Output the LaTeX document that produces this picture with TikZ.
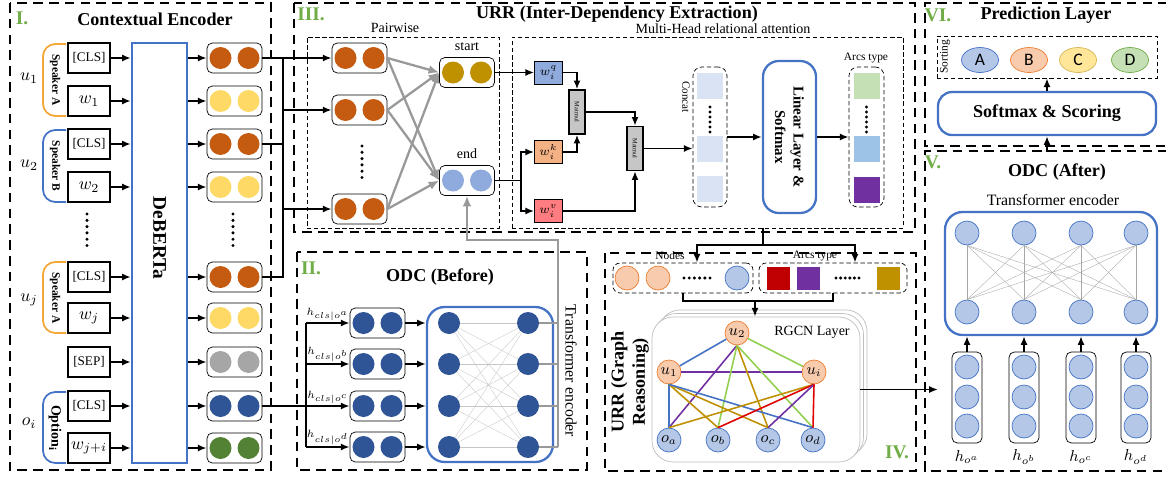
\documentclass[tikz,border=0pt]{standalone}
\usepackage{fontspec}
\setmainfont{Liberation Serif}
\newfontfamily\choicefont{Carlito}
\usepackage{tikz}
\usetikzlibrary{positioning,arrows.meta,calc,shapes.geometric}

\definecolor{clsorange}{HTML}{C55A11}
\definecolor{wordyellow}{HTML}{FFD966}
\definecolor{sepgray}{HTML}{A6A6A6}
\definecolor{optblue}{HTML}{2F5597}
\definecolor{wordgreen}{HTML}{548235}
\definecolor{startgold}{HTML}{BF9000}
\definecolor{endblue}{HTML}{8FAADC}
\definecolor{frameblue}{HTML}{4472C4}
\definecolor{labgreen}{HTML}{70AD47}
\definecolor{braceorange}{HTML}{F4A636}
\definecolor{qblue}{HTML}{8FAADC}
\definecolor{kpeach}{HTML}{F4B183}
\definecolor{vpink}{HTML}{FF7C80}
\definecolor{concatblue}{HTML}{DAE3F3}
\definecolor{arcgreen}{HTML}{C5E0B4}
\definecolor{arcblue}{HTML}{9DC3E6}
\definecolor{arcpurple}{HTML}{7030A0}
\definecolor{arcred}{HTML}{C00000}
\definecolor{nodepeach}{HTML}{F8CBAD}
\definecolor{nodeorange}{HTML}{ED7D31}
\definecolor{nodeblue}{HTML}{B4C7E7}
\definecolor{choiceyellow}{HTML}{FFE699}
\definecolor{choicegold}{HTML}{D6B656}
\definecolor{edgegreen}{HTML}{92D050}
\definecolor{edgered}{HTML}{E00000}

\tikzset{
  panel/.style={line width=1.2pt, dash pattern=on 5.5pt off 3.5pt},
  subpanel/.style={thin, dash pattern=on 2.5pt off 1.5pt},
  tokbox/.style={draw, line width=0.9pt, minimum width=0.84cm, minimum height=0.6cm, inner sep=0pt},
  tokcls/.style={font=\fontsize{7.5}{8}\selectfont},
  tokmath/.style={font=\fontsize{10}{11}\selectfont},
  pairbox/.style={draw, rounded corners=3pt, minimum width=1.1cm, minimum height=0.6cm, inner sep=0pt},
  link/.style={line width=1.1pt},
  arr/.style={line width=1.1pt, -{Latex[length=5pt,width=4pt]}},
  grayarr/.style={line width=1.3pt, gray!80, -{Latex[length=6pt,width=5pt]}},
  graylink/.style={line width=1.2pt, gray!80},
  paneltitle/.style={font=\fontsize{10.3}{12}\selectfont\bfseries},
  panelno/.style={font=\fontsize{11}{12}\selectfont\bfseries, text=labgreen},
  smalltext/.style={font=\fontsize{8}{9}\selectfont},
  tinytext/.style={font=\fontsize{6.5}{7}\selectfont},
  bluebox/.style={draw=frameblue, line width=1.3pt, rounded corners=8pt},
  neuron/.style={circle, minimum size=0.44cm, inner sep=0pt},
  gnode/.style={circle, minimum size=0.48cm, inner sep=0pt, font=\fontsize{9}{10}\selectfont},
  wbox/.style={draw, minimum width=0.56cm, minimum height=0.46cm, inner sep=0pt, font=\fontsize{7.5}{8}\selectfont},
  mmbox/.style={draw, line width=0.8pt, fill=gray!45, minimum width=0.32cm, minimum height=0.88cm, inner sep=0pt},
  mmtext/.style={rotate=-90, font=\fontsize{3.6}{4}\selectfont},
  choice/.style={ellipse, minimum width=0.74cm, minimum height=0.5cm, inner sep=0pt, font=\choicefont\fontsize{10}{11}\selectfont},
  arcsq/.style={minimum size=0.52cm, inner sep=0pt},
}

% two coloured dots in a rounded box
\newcommand{\dotpair}[3]{%
  \node[pairbox] (#1) at (#2) {};
  \fill[#3] ($(#1.center)+(-14,0)$) circle (0.22cm);
  \fill[#3] ($(#1.center)+(14,0)$) circle (0.22cm);
}
\newcommand{\dotcol}[3]{\foreach \k in {0,...,5} \fill (#1,{#2+#3*\k}) circle (0.034cm);}
\newcommand{\dotrow}[3]{\foreach \k in {0,...,5} \fill ({#1+#3*\k},#2) circle (0.034cm);}

\begin{document}
\begin{tikzpicture}[x=0.02cm, y=-0.02cm]
\useasboundingbox (0,0) rectangle (1166,477);

% I. contextual encoder
\draw[panel] (10,3) rectangle (271,470);
\node[panelno] (no1) at (22,18) {I.};
\node[paneltitle] (t1) at (155,19) {Contextual Encoder};

\node[draw=frameblue, line width=1.3pt, minimum width=1.1cm, minimum height=8.4cm] (deb) at (159.5,253) {};
\node[rotate=-90, font=\fontsize{11}{12}\selectfont\bfseries] (debtxt) at (159.5,238) {DeBERTa};

\foreach \n/\y/\s/\txt in {tk1/58/tokcls/[CLS], tk2/101/tokmath/$w_1$, tk3/144/tokcls/[CLS],
  tk4/187/tokmath/$w_2$, tk5/277/tokcls/[CLS], tk6/318/tokmath/$w_j$, tk7/362/tokcls/[SEP],
  tk8/406/tokcls/[CLS], tk9/448/tokmath/$w_{j+i}$}
  \node[tokbox,\s] (\n) at (89,\y) {\txt};

\foreach \n/\y/\c in {out1/58/clsorange, out2/101/wordyellow, out3/144/clsorange, out4/187/wordyellow,
  out5/277/clsorange, out6/318/wordyellow, out7/362/sepgray, out8/406/optblue, out9/448/wordgreen}
  {\dotpair{\n}{234.5,\y}{\c}}

\foreach \i in {1,...,9}{
  \draw[arr] (tk\i.east) -- (tk\i.east -| deb.west);
  \draw[arr] (out\i.west -| deb.east) -- (out\i.west);
}
\dotcol{87}{214}{6.3}
\dotcol{233}{214}{6.3}

% speaker braces
\draw[braceorange, line width=1pt, rounded corners=7pt] (66,44) -- (43,44) -- (43,116) -- (66,116);
\draw[frameblue, line width=1pt, rounded corners=7pt] (66,130) -- (43,130) -- (43,202) -- (66,202);
\draw[braceorange, line width=1pt, rounded corners=7pt] (66,262) -- (43,262) -- (43,333) -- (66,333);
\draw[frameblue, line width=1pt, rounded corners=7pt] (66,392) -- (43,392) -- (43,463) -- (66,463);
\node[rotate=-90, font=\fontsize{6.5}{7}\selectfont\bfseries] (spk1) at (55,80) {Speaker A};
\node[rotate=-90, font=\fontsize{6.5}{7}\selectfont\bfseries] (spk2) at (55,166) {Speaker B};
\node[rotate=-90, font=\fontsize{6.5}{7}\selectfont\bfseries] (spk3) at (55,298) {Speaker A};
\node[rotate=-90, font=\fontsize{8}{9}\selectfont\bfseries] (spk4) at (55,428) {Option\textsubscript{i}};
\node[font=\fontsize{10}{11}\selectfont] (ul1) at (29,78) {$u_1$};
\node[font=\fontsize{10}{11}\selectfont] (ul2) at (29,165) {$u_2$};
\node[font=\fontsize{10}{11}\selectfont] (ul3) at (29,300) {$u_j$};
\node[font=\fontsize{10}{11}\selectfont] (ul4) at (29,423) {$o_i$};

% III. URR inter-dependency extraction
\draw[panel] (294,3) rectangle (915,232);
\node[panelno] (no3) at (311,14) {III.};
\node[paneltitle] (t3) at (617,14) {URR (Inter-Dependency Extraction)};

\node[draw, subpanel, minimum width=3.84cm, minimum height=3.82cm] (pw) at (403,132.5) {};
\node[smalltext] (pwlab) at (395,28) {Pairwise};
\node[draw, subpanel, minimum width=7.82cm, minimum height=3.82cm] (mha) at (707.5,132.5) {};
\node[smalltext] (mhalab) at (723,29) {Multi-Head relational attention};

\dotpair{p1}{359.5,58}{clsorange}
\dotpair{p2}{359.5,110}{clsorange}
\dotpair{p3}{359.5,209}{clsorange}
\dotcol{362}{146}{6.3}
\dotpair{start}{467,72.5}{startgold}
\dotpair{end}{467,180.5}{endblue}
\node[smalltext, above=0pt of start] (stlab) {start};
\node[smalltext, above=0pt of end] (endlab) {end};

\coordinate (bus) at (283,0);
\draw[arr] (out1.east) -- (p1.west);
\draw[link] (out3.east) -- (bus |- out3.east);
\draw[link] (out5.east) -| (bus |- p1.west);
\draw[arr] (bus |- p2.west) -- (p2.west);
\draw[arr] (bus |- p3.west) -- (p3.west);

\foreach \i in {1,2,3}{
  \draw[grayarr] (p\i.east) -- (start.west);
  \draw[grayarr] (p\i.east) -- (end.west);
}

\node[wbox, fill=qblue] (wq) at (548.5,72.5) {$w_i^q$};
\node[wbox, fill=kpeach] (wk) at (548.5,152) {$w_i^k$};
\node[wbox, fill=vpink] (wv) at (548.5,211) {$w_i^v$};
\node[mmbox] (mm1) at (577,112) {};
\node[mmtext] (mm1txt) at (mm1) {Matmul};
\node[mmbox] (mm2) at (635,148.5) {};
\node[mmtext] (mm2txt) at (mm2) {Matmul};

\coordinate (split1) at (521,0);
\draw[arr] (start.east) -- (wq.west);
\draw[link] (end.east) -- (split1 |- end.east);
\draw[arr] (split1 |- end.east) |- (wk.west);
\draw[arr] (split1 |- end.east) |- (wv.west);
\draw[arr] (wq.east) -| (mm1.north);
\draw[arr] (wk.east) -| (mm1.south);
\draw[arr] (mm1.east) -| (mm2.north);
\draw[arr] (wv.east) -| (mm2.south);

\node[draw, subpanel, rounded corners=5pt, minimum width=0.68cm, minimum height=2.8cm] (concat) at (710,137) {};
\node[arcsq, fill=concatblue] (cq1) at (710,86) {};
\node[arcsq, fill=concatblue] (cq2) at (710,148.5) {};
\node[arcsq, fill=concatblue] (cq3) at (710,188.5) {};
\dotcol{710}{107}{5}
\node[rotate=-90, font=\fontsize{6.3}{7}\selectfont] (cclab) at (686,97) {Concat};
\draw[arr] (mm2.east) -- (mm2.east -| concat.west);

\node[bluebox, rounded corners=9pt, minimum width=1.06cm, minimum height=3.04cm] (linear) at (789.5,137) {};
\node[rotate=-90, align=center, font=\fontsize{8.5}{10.5}\selectfont\bfseries] (lintxt) at (linear) {Linear Layer \&\\Softmax};
\draw[arr] (concat.east) -- (linear.west);

\node[draw, subpanel, rounded corners=5pt, minimum width=0.7cm, minimum height=2.8cm] (arcs) at (866.5,137) {};
\node[arcsq, fill=arcgreen] (aq1) at (866.5,86) {};
\node[arcsq, fill=arcblue] (aq2) at (866.5,148.5) {};
\node[arcsq, fill=arcpurple] (aq3) at (866.5,189.5) {};
\dotcol{866.5}{107}{5}
\node[tinytext] (arcslab) at (866,58) {Arcs type};
\draw[arr] (linear.east) -- (arcs.west);

% II. ODC before
\draw[panel] (297,252) rectangle (587,470);
\node[panelno] (no2) at (311,268) {II.};
\node[paneltitle] (t2) at (440,277) {ODC (Before)};

\foreach \i/\y in {1/323,2/364,3/406,4/447}{\dotpair{ob\i}{377.5,\y}{optblue}}
\node[bluebox, rounded corners=10pt, minimum width=2.52cm, minimum height=3.1cm] (tfb) at (490,384.5) {};
\foreach \i/\y in {1/323,2/364,3/406,4/447}{
  \node[neuron, fill=optblue] (tl\i) at (449,\y) {};
  \node[neuron, fill=optblue] (tr\i) at (528,\y) {};
}
\foreach \i in {1,...,4}
  \foreach \j in {1,...,4}
    \draw[gray!45, very thin] (tl\i) -- (tr\j);

\coordinate (obus) at (306,0);
\draw[link] (out8.east) -- (obus |- out8.east);
\draw[link] (obus |- ob1.west) -- (obus |- ob4.west);
\foreach \i/\s in {1/a,2/b,3/c,4/d}{
  \draw[arr] (obus |- ob\i.west) -- node[above, inner sep=1pt, font=\fontsize{6.5}{7}\selectfont] (hl\i) {$h_{cls|o^\s}$} (ob\i.west);
  \draw[arr] (ob\i.east) -- (ob\i.east -| tfb.west);
}
\node[rotate=-90, font=\fontsize{9}{10}\selectfont] (tetxt) at (571,371) {Transformer encoder};

\coordinate (gbus) at (558,240);
\foreach \i in {1,...,4}
  \draw[graylink] (tr\i.east) -- (tr\i.east -| gbus);
\draw[grayarr] (gbus |- tr4.east) -- (gbus) -| (end.south);

% IV. URR graph reasoning
\draw[panel] (605,253) rectangle (916,471);
\node[panelno] (no4) at (897,452) {IV.};
\node[rotate=90, align=center, paneltitle] (t4) at (630,382) {URR (Graph\\Reasoning)};

\node[draw, subpanel, rounded corners=4pt, minimum width=2.8cm, minimum height=0.6cm] (nodesbox) at (683,278) {};
\node[neuron, minimum size=0.48cm, fill=nodepeach, draw=nodeorange] (nd1) at (627,278) {};
\node[neuron, minimum size=0.48cm, fill=nodepeach, draw=nodeorange] (nd2) at (658,278) {};
\node[neuron, minimum size=0.48cm, fill=nodeblue, draw=frameblue] (nd3) at (737,278) {};
\dotrow{684}{278}{5.2}
\node[tinytext] (ndlab) at (670,256) {Nodes};

\node[draw, subpanel, rounded corners=4pt, minimum width=2.96cm, minimum height=0.6cm] (arcsbox) at (833,278) {};
\node[arcsq, minimum size=0.46cm, fill=arcred] (rs1) at (778.5,278) {};
\node[arcsq, minimum size=0.46cm, fill=arcpurple] (rs2) at (808,278) {};
\node[arcsq, minimum size=0.46cm, fill=startgold] (rs3) at (888,278) {};
\dotrow{836}{278}{4.6}
\node[tinytext] (arlab) at (815,256) {Arcs type};

\coordinate (split2) at (763,245);
\draw[link] (split2 |- mha.south) -- (split2);
\draw[arr] (split2) -| ($(nodesbox.north)+(14,0)$);
\draw[arr] (split2) -| ($(arcsbox.north)+(22,0)$);

\foreach \d in {7,3.5}
  \draw[gray!50, fill=white, rounded corners=12pt] (652+\d,317-\d) rectangle (860+\d,462-\d);
\node[draw=gray!50, fill=white, rounded corners=12pt, minimum width=4.16cm, minimum height=2.9cm] (rgcn) at (756,389.5) {};
\node[smalltext] (rgcnlab) at (812,332) {RGCN Layer};

\coordinate (merge) at (755,301);
\draw[link] (nodesbox.south) |- (merge) -| (arcsbox.south);
\draw[arr] (merge) -- (merge |- rgcn.north);

\node[gnode, fill=nodepeach, draw=nodeorange] (u2) at (737,333) {$u_2$};
\node[gnode, fill=nodepeach, draw=nodeorange] (u1) at (669,372) {$u_1$};
\node[gnode, fill=nodepeach, draw=nodeorange] (ui) at (814,372) {$u_i$};
\node[gnode, fill=nodeblue, draw=frameblue] (oa) at (669,440) {$o_a$};
\node[gnode, fill=nodeblue, draw=frameblue] (ob) at (718,440) {$o_b$};
\node[gnode, fill=nodeblue, draw=frameblue] (oc) at (768,440) {$o_c$};
\node[gnode, fill=nodeblue, draw=frameblue] (od) at (813,440) {$o_d$};

\foreach \a/\b/\c in {u2/u1/frameblue, u2/ui/edgegreen, u1/ui/arcpurple}
  \draw[\c, line width=0.9pt] (\a) -- (\b);
\foreach \a/\b/\c in {u2/oa/arcpurple, u2/ob/edgegreen, u2/oc/startgold, u2/od/edgegreen,
  u1/oa/frameblue, u1/ob/startgold, u1/oc/startgold, u1/od/frameblue,
  ui/oa/startgold, ui/ob/edgered, ui/oc/arcpurple, ui/od/edgered}
  \draw[\c, line width=0.9pt] (\a.south) -- (\b.north);

\coordinate (intoV) at (938,389.5);
\draw[arr] (rgcn.east) -- (intoV);

% VI. prediction layer
\draw[panel] (1168,3) -| (925,146) -- (1168,146);
\node[panelno] (no6) at (938,15) {VI.};
\node[paneltitle] (t6) at (1046,15) {Prediction Layer};
\node[draw, subpanel, minimum width=4.4cm, minimum height=0.84cm] (sortbox) at (1047,57) {};
\node[rotate=90, tinytext] (sortlab) at (945,57) {Sorting};
\node[choice, fill=nodeblue, draw=frameblue] (chA) at (980,60) {A};
\node[choice, fill=nodepeach, draw=nodeorange] (chB) at (1029,60) {B};
\node[choice, fill=choiceyellow, draw=choicegold] (chC) at (1078,60) {C};
\node[choice, fill=arcgreen, draw=labgreen] (chD) at (1130,60) {D};
\node[bluebox, minimum width=4.36cm, minimum height=0.86cm, paneltitle] (score) at (1047,113.5) {Softmax \& Scoring};
\draw[arr] (score.north) -- (score.north |- sortbox.south);

% V. ODC after
\draw[panel] (1168,151) -| (925,471) -- (1168,471);
\node[panelno] (no5) at (933,162) {V.};
\node[paneltitle] (t5) at (1057,172) {ODC (After)};
\node[font=\fontsize{9}{10}\selectfont] (t5sub) at (1053,200) {Transformer encoder};
\coordinate (fromV) at (1047,152);
\draw[arr] (fromV) -- (score.south);

\node[bluebox, rounded corners=10pt, minimum width=4.24cm, minimum height=2.46cm] (tfa) at (1051,273.5) {};
\foreach \i/\x/\s in {1/967/a,2/1024/b,3/1081/c,4/1136/d}{
  \node[neuron, minimum size=0.48cm, fill=nodeblue, draw=frameblue] (ta\i) at (\x,233) {};
  \node[neuron, minimum size=0.48cm, fill=nodeblue, draw=frameblue] (tb\i) at (\x,312) {};
  \node[draw, rounded corners=3pt, minimum width=0.6cm, minimum height=1.82cm] (col\i) at (\x,397.5) {};
  \foreach \y in {367,397,426}
    \node[neuron, minimum size=0.48cm, fill=nodeblue, draw=frameblue] (c\i\y) at (\x,\y) {};
  \node[font=\fontsize{9}{10}\selectfont] (ho\i) at (\x,457) {$h_{o^\s}$};
  \draw[arr] (col\i.north) -- (col\i.north |- tfa.south);
}
\foreach \i in {1,...,4}
  \foreach \j in {1,...,4}
    \draw[gray!70, very thin] (ta\i.south) -- (tb\j.north);

\end{tikzpicture}
\end{document}
